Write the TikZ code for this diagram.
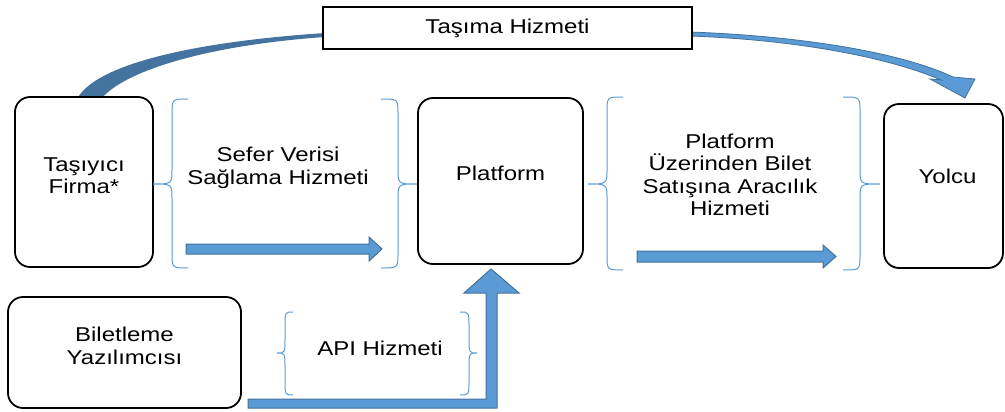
\documentclass[tikz,border=0pt]{standalone}
\usepackage{fontspec}
\setmainfont{Liberation Sans}[FakeStretch=1.2]
\definecolor{braceblue}{HTML}{5B9BD5}
\definecolor{arrowfill}{HTML}{5B9BD5}
\definecolor{arrowedge}{HTML}{41719C}
\definecolor{arcdark}{HTML}{44739F}
% brace: #1 tipx, #2 tipy, #3 top, #4 bottom, #5 spine x, #6 end x
\newcommand\mybrc[6]{\draw[brc] (#6,#3) .. controls (#5,#3) .. (#5,{#3+15}) -- (#5,{#2-15}) .. controls (#5,#2) .. (#1,#2) .. controls (#5,#2) .. (#5,{#2+15}) -- (#5,{#4-15}) .. controls (#5,#4) .. (#6,#4);}
% block arrow: #1 tail x, #2 head base x, #3 tip x, #4 centre y, #5 half shaft, #6 half head
\newcommand\myhblock[6]{\filldraw[barrow] (#1,{#4-#5}) -- (#2,{#4-#5}) -- (#2,{#4-#6}) -- (#3,#4) -- (#2,{#4+#6}) -- (#2,{#4+#5}) -- (#1,{#4+#5}) -- cycle;}
\begin{document}
\begin{tikzpicture}[x=1pt,y=-1pt,
  box/.style={draw=black, line width=1.8pt, rounded corners=15pt, fill=white, inner sep=0pt},
  txt/.style={font=\fontsize{20}{22.5}\selectfont, align=center, inner sep=0pt},
  brc/.style={draw=braceblue, line width=1pt},
  barrow/.style={fill=arrowfill, draw=arrowedge, line width=1pt, line join=miter}]
\useasboundingbox (0,0) rectangle (1005,412);

% curved arrow (Taşıma Hizmeti) behind the boxes
\fill[arcdark] (77,99) .. controls (95,65) and (190,42) .. (325,33) -- (325,37) .. controls (210,45) and (125,70) .. (101,99) -- cycle;
\filldraw[fill=arrowfill, draw=arrowedge, line width=0.8pt, line join=miter] (690,32) .. controls (800,36) and (900,52) .. (953,77) -- (975,79) -- (965,98) -- (930,79) -- (941,80) .. controls (890,58) and (800,40) .. (690,36) -- cycle;

% boxes
\node[box, minimum width=138pt, minimum height=170pt, label={[txt,yshift=6.5pt]center:Taşıyıcı\\Firma*}] (tf) at (84,182) {};
\node[box, minimum width=165pt, minimum height=166pt, label={[txt,yshift=8pt]center:Platform}] (plat) at (500.5,181) {};
\node[box, minimum width=119pt, minimum height=164pt, label={[txt,yshift=9.5pt,xshift=4pt]center:Yolcu}] (yolcu) at (943.5,186) {};
\node[box, minimum width=233pt, minimum height=111pt, label={[txt,yshift=6.5pt]center:Biletleme\\Yazılımcısı}] (bil) at (124.5,352.5) {};
\node[box, sharp corners, minimum width=369pt, minimum height=42pt, font=\fontsize{20}{22.5}\selectfont] (tasima) at (507.5,28) {Taşıma Hizmeti};

% braces
\mybrc{153}{184}{99}{268}{172}{188}
\mybrc{417}{184}{99}{268}{398}{381}
\mybrc{588}{184}{97}{270}{607}{623}
\mybrc{880}{184}{97}{270}{860}{843}
\mybrc{277}{353}{312}{395}{285}{293}
\mybrc{477}{353}{312}{395}{469}{460}

% brace texts
\node[txt] (sefer) at (278,168) {Sefer Verisi\\Sağlama Hizmeti};
\node[txt] (aracilik) at (730,175) {Platform\\Üzerinden Bilet\\Satışına Aracılık\\Hizmeti};
\node[txt] (api) at (380,348) {API Hizmeti};

% block arrows
\myhblock{186}{369}{382}{249}{5}{12}
\myhblock{637}{823}{836}{256.5}{5.5}{11.5}
\filldraw[barrow] (248,399) -- (486,399) -- (486,293) -- (464,293) -- (491,269) -- (519,293) -- (497,293) -- (497,408) -- (248,408) -- cycle;
\end{tikzpicture}
\end{document}
